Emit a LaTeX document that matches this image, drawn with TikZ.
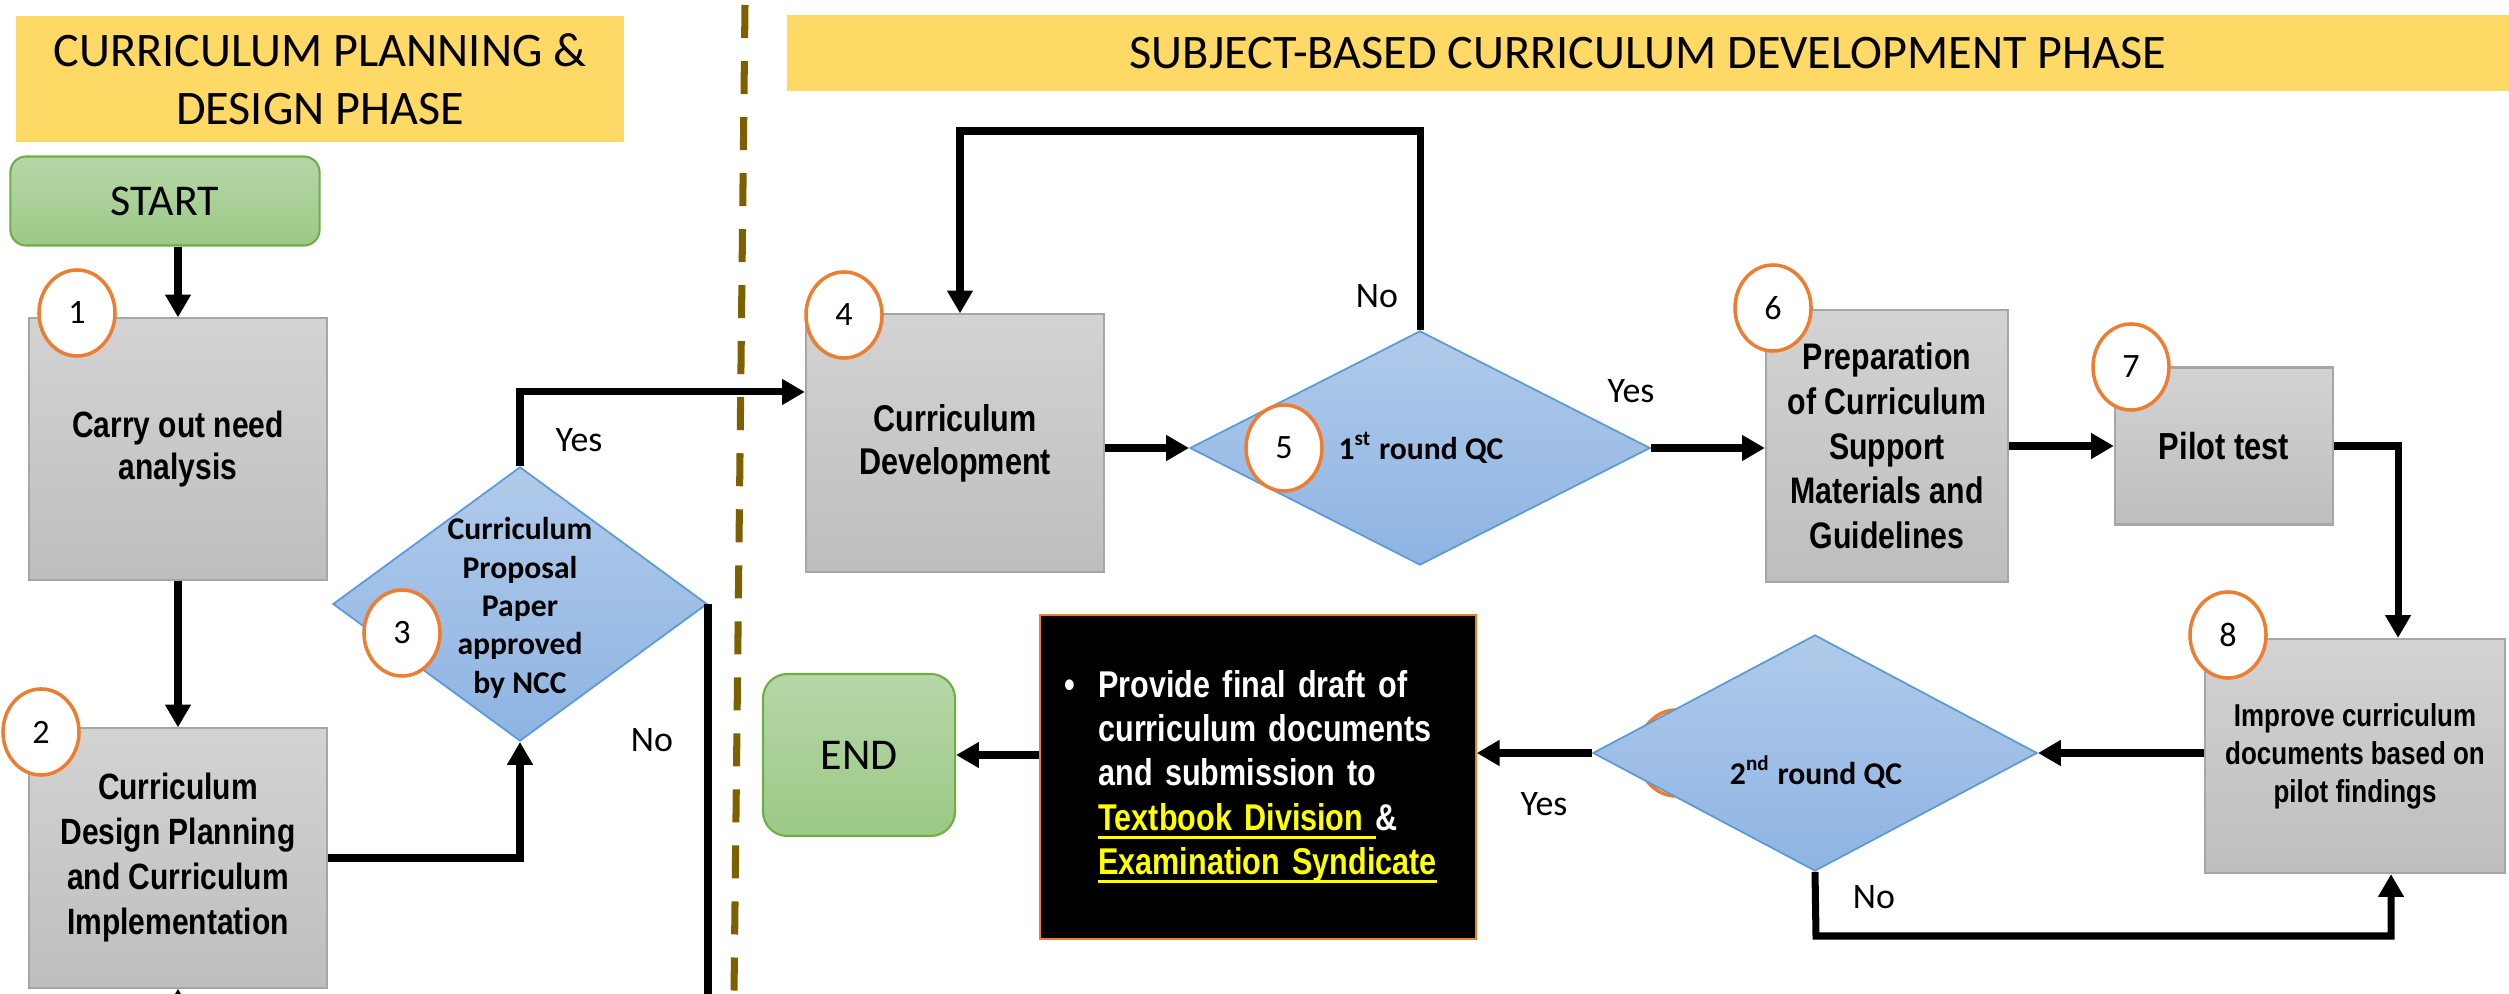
\documentclass[tikz,border=0pt]{standalone}
\usepackage{fontspec}
\setmainfont{Carlito}
\newfontfamily\nar[FakeStretch=0.82]{Liberation Sans}
\usetikzlibrary{shapes.geometric,arrows.meta}
\definecolor{ttl}{HTML}{FFD966}
\definecolor{dashc}{HTML}{7F6000}
\definecolor{gtop}{HTML}{D3D3D3}
\definecolor{gbot}{HTML}{BEBEBE}
\definecolor{gedge}{HTML}{A6A6A6}
\definecolor{dtop}{HTML}{B0CAEA}
\definecolor{dbot}{HTML}{8EB4E3}
\definecolor{dedge}{HTML}{5B9BD5}
\definecolor{ttop}{HTML}{B6D7A8}
\definecolor{tbot}{HTML}{9CC986}
\definecolor{tedge}{HTML}{70AD47}
\definecolor{numc}{HTML}{ED7D31}
\definecolor{ylw}{HTML}{FFFF00}
% thick underline drawn in the current colour
\newcommand\yul[1]{\setbox0=\hbox{#1}\rlap{\rule[-2.4pt]{\wd0}{0.8pt}}\box0}
\begin{document}
\begin{tikzpicture}[x=0.01cm,y=-0.01cm,
  ttlbox/.style={fill=ttl, inner sep=0pt, align=center, font=\fontsize{13.7}{16.5}\selectfont},
  term/.style={draw=tedge, line width=0.6pt, top color=ttop, bottom color=tbot, inner sep=0pt, font=\fontsize{12.5}{15}\selectfont},
  box/.style={draw=gedge, line width=0.6pt, top color=gtop, bottom color=gbot, inner sep=0pt, align=center},
  dia/.style={diamond, draw=dedge, line width=0.5pt, top color=dtop, bottom color=dbot, inner sep=0pt},
  dtxt/.style={inner sep=0pt, align=center, font=\bfseries\fontsize{9}{10.9}\selectfont},
  num/.style={ellipse, draw=numc, line width=1pt, fill=white, minimum width=0.76cm, minimum height=0.86cm, inner sep=0pt, font=\fontsize{9.7}{11}\selectfont},
  lbl/.style={inner sep=0pt, font=\fontsize{10.2}{12}\selectfont},
  ln/.style={line width=2pt},
  arr/.style={line width=2pt, -{Triangle[length=6.5pt,width=7pt]}}
]
\useasboundingbox (0,0) rectangle (2509,994);

% phase headers
\node[ttlbox, minimum width=6.08cm, minimum height=1.25cm] (ttlL) at (320,79) {CURRICULUM PLANNING \&\\DESIGN PHASE};
\node[ttlbox, minimum width=17.22cm, minimum height=0.75cm] (ttlR) at (1648,53) {SUBJECT-BASED CURRICULUM DEVELOPMENT PHASE};

% phase divider
\coordinate (divtop) at (745,5);
\coordinate (divbot) at (734,994);
\draw[dashc, line width=2pt, dash pattern=on 0.33cm off 0.23cm] (divtop) -- (divbot);

% terminals
\node[term, rounded corners=4.5pt, minimum width=3.09cm, minimum height=0.89cm] (start) at (165,201) {START};
\node[term, rounded corners=7pt, minimum width=1.92cm, minimum height=1.62cm] (endn) at (859,755) {END};

% process boxes
\node[box, minimum width=2.97cm, minimum height=2.61cm, font=\nar\bfseries\fontsize{10.4}{12}\selectfont] (b1) at (178,449) {Carry out need\\analysis};
\node[box, minimum width=2.97cm, minimum height=2.59cm, font=\nar\bfseries\fontsize{10.4}{12.8}\selectfont] (b2) at (178,858) {Curriculum\\Design Planning\\and Curriculum\\Implementation};
\node[box, minimum width=2.98cm, minimum height=2.57cm, font=\nar\bfseries\fontsize{10.6}{12.2}\selectfont] (b4) at (955,443) {Curriculum\\Development};
\node[box, minimum width=2.42cm, minimum height=2.72cm, font=\nar\bfseries\fontsize{10.5}{12.7}\selectfont] (b6) at (1887,446) {Preparation\\of Curriculum\\Support\\Materials and\\Guidelines};
\node[box, minimum width=2.18cm, minimum height=1.57cm, font=\nar\bfseries\fontsize{10.7}{12}\selectfont] (b7) at (2224,446) {Pilot test};
\node[box, minimum width=3.00cm, minimum height=2.34cm, font=\nar\bfseries\fontsize{9}{10.8}\selectfont] (b8) at (2355,756) {Improve curriculum\\documents based on\\pilot findings};

% decisions
\node[dia, minimum width=3.74cm, minimum height=2.74cm] (d3) at (520,604) {};
\node[dtxt] (d3t) at (520,608) {Curriculum\\Proposal\\Paper\\approved\\by NCC};
\node[dia, minimum width=4.60cm, minimum height=2.34cm] (d5) at (1420,448) {};
\node[dtxt] (d5t) at (1421,448) {1\textsuperscript{st} round QC};
\node[num] (c9) at (1676,753) {};
\node[dia, minimum width=4.44cm, minimum height=2.36cm] (d9) at (1815,753) {};
\node[dtxt] (d9t) at (1816,772) {2\textsuperscript{nd} round QC};

% final submission box
\node[fill=black, draw=numc, line width=0.6pt, text=white, minimum width=4.35cm, minimum height=3.23cm,
      inner xsep=0.24cm, inner ysep=0pt, text width=3.87cm, align=left,
      font=\nar\bfseries\fontsize{10.6}{12.6}\selectfont] (bk) at (1258,777)
  {\begin{tabular}{@{}p{0.34cm}@{}l@{}}
   \textbullet & Provide final draft of\\
   & curriculum documents\\
   & and submission to\\
   & \textcolor{ylw}{\yul{Textbook Division\ }}\&\\
   & \textcolor{ylw}{\yul{Examination Syndicate}}
   \end{tabular}};

% step numbers
\node[num] (c1) at (77,313) {1};
\node[num] (c2) at (41,732) {2};
\node[num] (c3) at (402,633) {3};
\node[num] (c4) at (844,315) {4};
\node[num] (c5) at (1284,448) {5};
\node[num] (c6) at (1773,308) {6};
\node[num] (c7) at (2131,367) {7};
\node[num] (c8) at (2228,635) {8};

% connectors
\draw[arr] (b1.north |- start.south) -- (b1.north);
\draw[arr] (b1.south) -- (b2.north);
\draw[arr] (b2.east) -| (d3.south);
\coordinate (in4) at ([yshift=0.51cm]b4.west);
\draw[arr] (d3.north) |- (in4);
\coordinate (noend) at (707,994);
\draw[ln] (d3.east) -- (d3.east |- noend);
\coordinate (b2in) at (178,994);
\draw[arr] (b2in) -- (b2.south);
\draw[arr] (b4.east |- d5.west) -- (d5.west);
\coordinate (looptop) at (960,131);
\draw[arr] (d5.north) |- (looptop) -- (looptop |- b4.north);
\draw[arr] (d5.east) -- (d5.east -| b6.west);
\draw[arr] (b6.east) -- (b7.west);
\coordinate (in8) at ([xshift=0.43cm]b8.north);
\draw[arr] (b7.east) -| (in8);
\draw[arr] (b8.west |- d9.east) -- (d9.east);
\coordinate (in8b) at ([xshift=0.36cm]b8.south);
\coordinate (nobot) at (1816,936);
\draw[arr] (d9.south) -- (nobot) -| (in8b);
\draw[arr] (d9.west) -- (d9.west -| bk.east);
\draw[arr] (bk.west |- endn.east) -- (endn.east);

% branch labels
\node[lbl] (y3) at (579,440) {Yes};
\node[lbl] (n3) at (652,740) {No};
\node[lbl] (n5) at (1377,296) {No};
\node[lbl] (y5) at (1631,391) {Yes};
\node[lbl] (y9) at (1544,804) {Yes};
\node[lbl] (n9) at (1874,897) {No};
\end{tikzpicture}
\end{document}
